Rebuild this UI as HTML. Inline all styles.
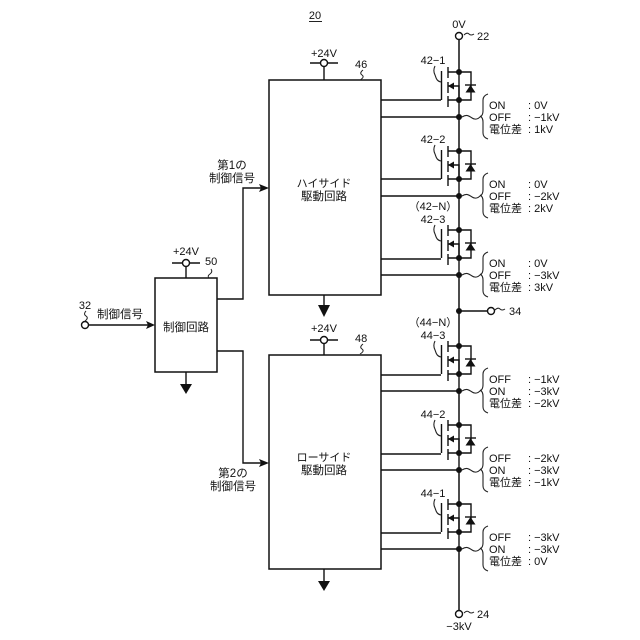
<!DOCTYPE html>
<html><head><meta charset="utf-8">
<style>
html,body{margin:0;padding:0;background:#fff}
svg{display:block}
text{font-family:"Liberation Sans","Noto Sans CJK JP",sans-serif;font-size:11px;fill:#111}
.j{font-size:11.5px;text-anchor:middle}
.k{font-size:11px;text-anchor:middle}
.m{text-anchor:middle}
</style></head><body>
<svg width="640" height="640" viewBox="0 0 640 640" xmlns="http://www.w3.org/2000/svg">
<defs>
<g id="q" fill="none" stroke="#111" stroke-width="1.4">
<path d="M441.500 -1V28M448 -5V6M448 10V21M448 24V35"/>
<path d="M448 0H471V28H448M448 14H459V28"/>
<path d="M459 -2V45"/>
<path d="M465 13H476"/>
<polygon points="448,14 454,10.500 454,17.500" fill="#111" stroke="none"/>
<polygon points="470.500,13 465.500,20.500 475.500,20.500" fill="#111" stroke="none"/>
<circle cx="459" cy="0" r="3" fill="#111" stroke="none"/>
<circle cx="459" cy="28" r="3" fill="#111" stroke="none"/>
<circle cx="459" cy="45" r="3" fill="#111" stroke="none"/>
</g>
<g id="b" fill="none" stroke="#222" stroke-width="1.1">
<path d="M462 0c5 -3 7 -1 10 1s6 1 8 -1c2 -1 3 -3 3 -6V-17c0 -3 2 -5 5 -6M480 -1c2 1 3 3 3 6V16c0 3 2 5 5 6"/>
</g>
<path id="s" d="M0 0c-2 4 -1 7 0 9s1 6 6 7" fill="none" stroke="#222" stroke-width="1.1"/>
</defs>

<text x="315" y="19" class="m">20</text>
<path d="M309 21.500H322" stroke="#222" stroke-width="1"/>

<path d="M459 40V72M459 117V151M459 196V230M459 275V346M459 391V425M459 470V504M459 549V610" stroke="#111" stroke-width="1.500" fill="none"/>
<circle cx="459" cy="36" r="3.500" fill="#fff" stroke="#111" stroke-width="1.400"/>
<circle cx="459" cy="614" r="3.500" fill="#fff" stroke="#111" stroke-width="1.400"/>
<text x="459" y="28" class="m">0V</text>
<path d="M464 35q3 -3 5 -1t5 0" fill="none" stroke="#222"/>
<text x="477" y="40">22</text>
<path d="M464 613q3 -3 5 -1t5 0" fill="none" stroke="#222"/>
<text x="477" y="618">24</text>
<text x="459" y="630" class="m">−3kV</text>

<use href="#q" y="72"/><use href="#q" y="151"/><use href="#q" y="230"/>
<use href="#q" y="346"/><use href="#q" y="425"/><use href="#q" y="504"/>

<path d="M381 100H441M381 117H459M381 179H441M381 196H459M381 259H441M381 275H459M381 375H441M381 391H459M381 454H441M381 470H459M381 533H441M381 549H459" stroke="#111" stroke-width="1.400" fill="none"/>

<use href="#b" y="117"/><use href="#b" y="196"/><use href="#b" y="275"/>
<use href="#b" y="391"/><use href="#b" y="470"/><use href="#b" y="549"/>

<path d="M459 311H487" stroke="#111" stroke-width="1.400"/>
<circle cx="459" cy="311" r="3" fill="#111"/>
<circle cx="491" cy="311" r="3.500" fill="#fff" stroke="#111" stroke-width="1.400"/>
<path d="M495 310q3 -3 5 -1t5 0" fill="none" stroke="#222"/>
<text x="509" y="315">34</text>

<text x="433" y="64" class="m">42−1</text><use href="#s" x="435" y="66"/>
<text x="433" y="143" class="m">42−2</text><use href="#s" x="435" y="145"/>
<text x="433" y="210" class="m">（42−N）</text>
<text x="433" y="223" class="m">42−3</text><use href="#s" x="435" y="225"/>
<text x="433" y="326" class="m">（44−N）</text>
<text x="433" y="339" class="m">44−3</text><use href="#s" x="435" y="341"/>
<text x="433" y="418" class="m">44−2</text><use href="#s" x="435" y="420"/>
<text x="433" y="497" class="m">44−1</text><use href="#s" x="435" y="499"/>

<text x="489" y="109">ON</text><text x="528" y="109">: 0V</text>
<text x="489" y="121">OFF</text><text x="528" y="121">: −1kV</text>
<text x="489" y="133">電位差</text><text x="528" y="133">: 1kV</text>

<text x="489" y="188">ON</text><text x="528" y="188">: 0V</text>
<text x="489" y="200">OFF</text><text x="528" y="200">: −2kV</text>
<text x="489" y="212">電位差</text><text x="528" y="212">: 2kV</text>

<text x="489" y="267">ON</text><text x="528" y="267">: 0V</text>
<text x="489" y="279">OFF</text><text x="528" y="279">: −3kV</text>
<text x="489" y="291">電位差</text><text x="528" y="291">: 3kV</text>

<text x="489" y="383">OFF</text><text x="528" y="383">: −1kV</text>
<text x="489" y="395">ON</text><text x="528" y="395">: −3kV</text>
<text x="489" y="407">電位差</text><text x="528" y="407">: −2kV</text>

<text x="489" y="462">OFF</text><text x="528" y="462">: −2kV</text>
<text x="489" y="474">ON</text><text x="528" y="474">: −3kV</text>
<text x="489" y="486">電位差</text><text x="528" y="486">: −1kV</text>

<text x="489" y="541">OFF</text><text x="528" y="541">: −3kV</text>
<text x="489" y="553">ON</text><text x="528" y="553">: −3kV</text>
<text x="489" y="565">電位差</text><text x="528" y="565">: 0V</text>

<g fill="#fff" stroke="#111" stroke-width="1.500">
<rect x="269" y="80" width="112" height="215"/>
<rect x="269" y="355" width="112" height="214"/>
<rect x="155" y="278" width="62" height="94"/>
</g>
<text x="324" y="187" class="k">ハイサイド</text>
<text x="324" y="200" class="j">駆動回路</text>
<text x="324" y="461" class="k">ローサイド</text>
<text x="324" y="474" class="j">駆動回路</text>
<text x="186" y="331" class="j">制御回路</text>

<g fill="none" stroke="#111" stroke-width="1.400">
<path d="M310 63H338M324 67V80"/>
<path d="M310 340H338M324 344V355"/>
<path d="M172 263H200M186 267V278"/>
</g>
<g fill="#fff" stroke="#111" stroke-width="1.400">
<circle cx="324" cy="63" r="3.500"/><circle cx="324" cy="340" r="3.500"/><circle cx="186" cy="263" r="3.500"/>
</g>
<text x="324" y="57" class="m">+24V</text>
<text x="324" y="332" class="m">+24V</text>
<text x="186" y="255" class="m">+24V</text>
<text x="355" y="68">46</text><path d="M363 70q-4 3 -1 5t-2 5" fill="none" stroke="#222"/>
<text x="355" y="342">48</text><path d="M363 344q-4 3 -1 5t-2 5" fill="none" stroke="#222"/>
<text x="205" y="265">50</text><path d="M211 269q2 3 -1 5t-1 4" fill="none" stroke="#222"/>

<g fill="none" stroke="#111" stroke-width="1.400">
<path d="M324 295V306M324 569V582M186 372V384"/>
</g>
<g fill="#111">
<polygon points="318,305 330,305 324,317"/>
<polygon points="318,581 330,581 324,591"/>
<polygon points="180,384 192,384 186,394"/>
</g>

<g fill="none" stroke="#111" stroke-width="1.400">
<path d="M217 299H243V188H263"/>
<path d="M217 351H243V463H263"/>
<path d="M89 325H150"/>
</g>
<g fill="#111">
<polygon points="269,188 259,184 261,188 259,192"/>
<polygon points="269,463 259,459 261,463 259,467"/>
<polygon points="155,325 146,321 148,325 146,329"/>
</g>
<circle cx="85" cy="325" r="3.500" fill="#fff" stroke="#111" stroke-width="1.400"/>
<text x="85" y="309" class="m">32</text>
<path d="M86 311q-3 3 0 5t-1 5" fill="none" stroke="#222"/>
<text x="120" y="318" class="j">制御信号</text>
<text x="232" y="169" class="j">第1の</text>
<text x="232" y="182" class="j">制御信号</text>
<text x="233" y="477" class="j">第2の</text>
<text x="233" y="490" class="j">制御信号</text>
</svg>
</body></html>
